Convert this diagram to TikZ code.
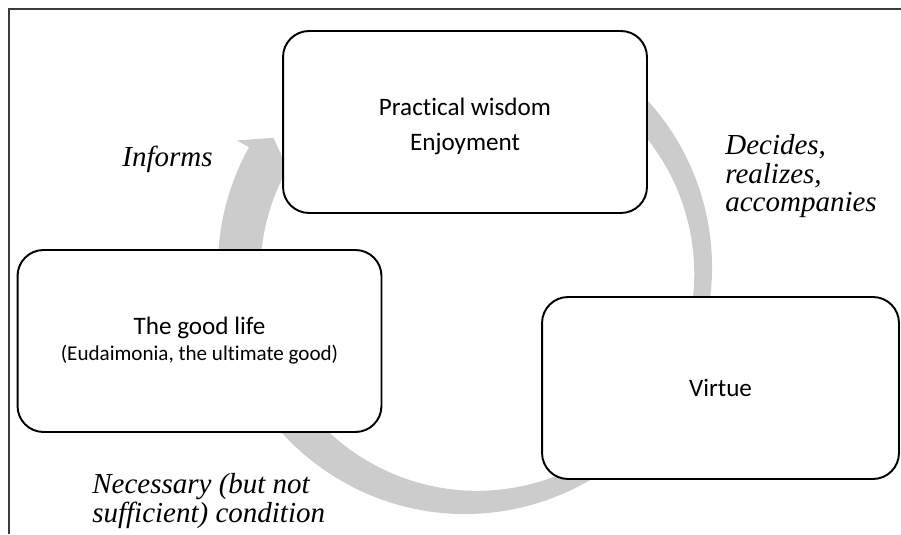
\documentclass[tikz,border=0pt]{standalone}
\usepackage{fontspec}
\setsansfont[Ligatures=NoCommon]{Carlito}
\setmainfont{Liberation Serif}
\usetikzlibrary{calc}
\definecolor{ringgray}{RGB}{204,204,204}
\definecolor{framegray}{RGB}{60,60,60}

\begin{document}
\begin{tikzpicture}[x=0.02cm, y=0.02cm,
        box/.style={draw, line width=1.1pt, rounded corners=0.52cm, fill=white,
            minimum width=7.28cm, minimum height=3.64cm, inner sep=0pt, align=center,
            font=\sffamily\fontsize{14.3}{20.4}\selectfont},
        lab/.style={inner sep=0pt, align=left, font=\itshape\fontsize{16.5}{16.3}\selectfont}]
        \useasboundingbox (0,0) rectangle (901,534);
        \draw[framegray, line width=1.2pt] (9,0) -- (9,525) -- (901,525);
        % the grey ring behind the boxes
        \coordinate (C) at (465,267);
        \fill[ringgray] ($(C)+(60:247)$) arc[start angle=60, end angle=-209, radius=247]
            -- ($(C)+(151:261)$) -- ($(C)+(146:231)$) -- ($(C)+(151:203)$)
            arc[start angle=-209, end angle=60, radius=217] -- cycle;
        \node[box, text height=36pt, text depth=3pt] (pw) at (465,412) {Practical wisdom\\Enjoyment};
        \node[box] (gl) at (199.5,193) {The good life\\[-5.7pt]{\fontsize{12}{14.7}\selectfont (Eudaimonia, the ultimate good)}};
        \node[box, minimum width=7.14cm] (vir) at (720.5,146) {Virtue};
        \node[lab, anchor=base west] (inf) at (122,367) {Informs};
        \node[lab, anchor=north west] (dec) at (725,400) {Decides,\\realizes,\\accompanies};
        \node[lab, anchor=north west] (nec) at (92,61) {Necessary (but not\\sufficient) condition};
    \end{tikzpicture}
\end{document}
